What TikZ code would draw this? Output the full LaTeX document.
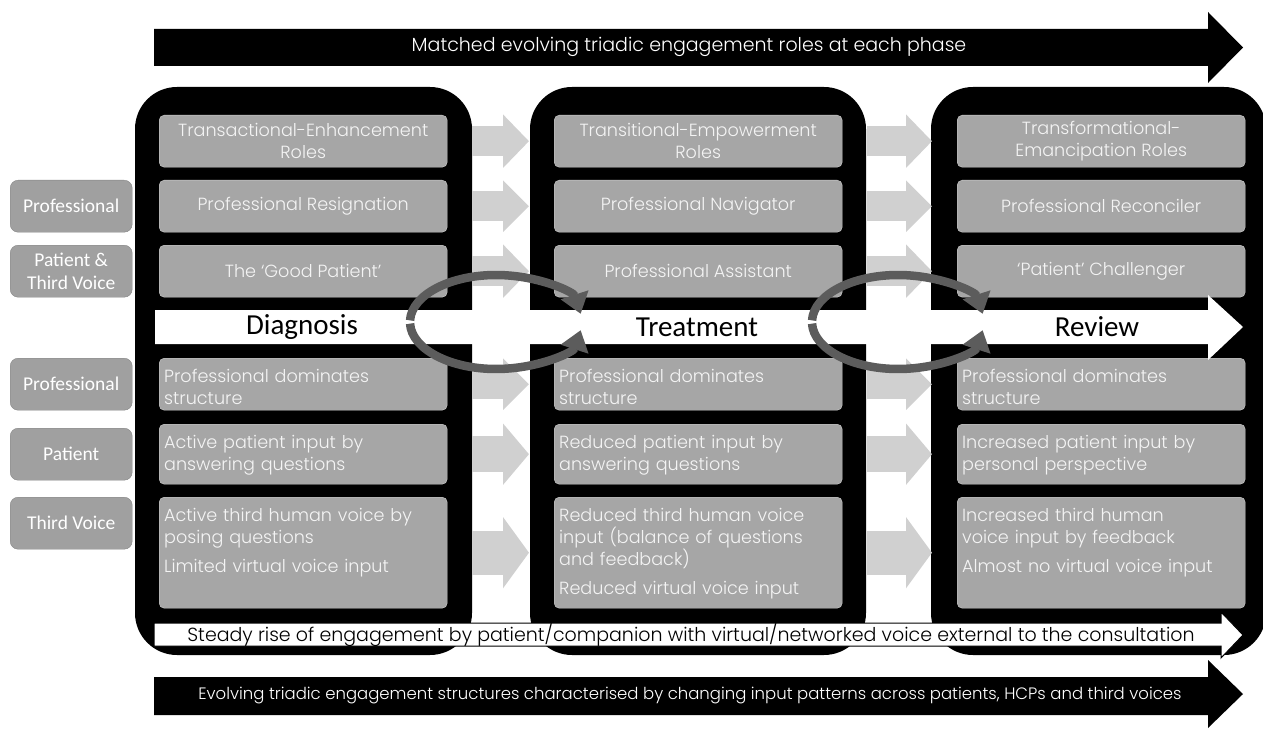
\documentclass[tikz,border=0pt]{standalone}
\usepackage{fontspec}
\setmainfont{Poppins Light}
\newfontfamily\calfont{Carlito}
\usetikzlibrary{arrows.meta,positioning,calc}

\definecolor{boxfill}{HTML}{A6A6A6}
\definecolor{boxedge}{HTML}{CFCFCF}
\definecolor{boxtext}{HTML}{F4F4F4}
\definecolor{sidefill}{HTML}{A0A0A0}
\definecolor{sideedge}{HTML}{858585}
\definecolor{arrowgray}{HTML}{D0D0D0}
\definecolor{cyclegray}{HTML}{5C5C5C}

\newcommand\boxfont{\fontsize{17.6bp}{22bp}\selectfont}
\newcommand\sidefont{\calfont\fontsize{19.5bp}{23bp}\selectfont}
\newcommand\phasefont{\calfont\fontsize{29bp}{31bp}\selectfont}

\begin{document}
\begin{tikzpicture}[x=1bp, y=-1bp,
    panel/.style={fill=black, rounded corners=42bp},
    rolebox/.style={draw=boxedge, fill=boxfill, rounded corners=5bp, text=boxtext,
      anchor=north west, minimum width=288bp, minimum height=52bp, inner sep=3bp,
      align=center, font=\boxfont},
    inputbox/.style={rolebox, align=left, text width=278bp, inner xsep=5bp,
      inner ysep=4bp, text height=20bp, text depth=#1},
    sidelabel/.style={draw=sideedge, fill=sidefill, rounded corners=8bp, text=white,
      anchor=north west, minimum width=122bp, minimum height=52bp, inner sep=2bp,
      align=center, font=\sidefont},
    shiftarrow/.style 2 args={draw=arrowgray, line width=#1, shorten <=25bp, shorten >=25bp,
      -{Triangle[length=26bp, width=#2]}},
    cyclearrow/.style={draw=cyclegray, line width=8.5bp, -{Triangle[length=20bp, width=28bp]}},
    phase/.style={font=\phasefont},
    banner/.style={text=white, font=\fontsize{19bp}{21bp}\selectfont}]

  \useasboundingbox (0,0) rectangle (1263,729);

  % phase panels
  \fill[panel] (135,87) rectangle (472,655);
  \fill[panel] (530,87) rectangle (866,655);
  \fill[panel] (931,87) rectangle (1266,655);

  % top banner
  \fill (154,29) -- (1208,29) -- (1208,12) -- (1243,47.5) -- (1208,83) -- (1208,66) -- (154,66) -- cycle;
  \node[banner] (toptext) at (689,47) {Matched evolving triadic engagement roles at each phase};

  % diagnosis column
  \node[rolebox] (d1) at (159,115) {Transactional-Enhancement\\Roles};
  \node[rolebox] (d2) at (159,180) {Professional Resignation};
  \node[rolebox] (d3) at (159,245) {The ‘Good Patient’};
  \node[inputbox=24bp] (d4) at (159,358) {Professional dominates\\structure};
  \node[inputbox=32bp] (d5) at (159,424) {Active patient input by\\answering questions};
  \node[inputbox=83bp] (d6) at (159,497) {Active third human voice by\\posing questions\\[7bp]Limited virtual voice input};

  % treatment column
  \node[rolebox] (t1) at (554,115) {Transitional-Empowerment\\Roles};
  \node[rolebox] (t2) at (554,180) {Professional Navigator};
  \node[rolebox] (t3) at (554,245) {Professional Assistant};
  \node[inputbox=24bp] (t4) at (554,358) {Professional dominates\\structure};
  \node[inputbox=32bp] (t5) at (554,424) {Reduced patient input by\\answering questions};
  \node[inputbox=83bp] (t6) at (554,497) {Reduced third human voice\\input (balance of questions\\and feedback)\\[7bp]Reduced virtual voice input};

  % review column
  \node[rolebox] (r1) at (957,115) {Transformational-\\Emancipation Roles};
  \node[rolebox] (r2) at (957,180) {Professional Reconciler};
  \node[rolebox] (r3) at (957,245) {‘Patient’ Challenger};
  \node[inputbox=24bp] (r4) at (957,358) {Professional dominates\\structure};
  \node[inputbox=32bp] (r5) at (957,424) {Increased patient input by\\personal perspective};
  \node[inputbox=83bp] (r6) at (957,497) {Increased third human\\voice input by feedback\\[7bp]Almost no virtual voice input};

  % row labels
  \node[sidelabel] (lprof1) at (10,180) {Professional};
  \node[sidelabel] (lpatthird) at (10,245) {Patient \&\\Third Voice};
  \node[sidelabel] (lprof2) at (10,358) {Professional};
  \node[sidelabel] (lpat) at (10,428) {Patient};
  \node[sidelabel] (lthird) at (10,497) {Third Voice};

  % shifts between phases
  \foreach \row/\bw/\hw in {1/30/52, 2/30/50, 3/30/52, 4/30/50, 5/36/60, 6/44/70} {
    \draw[shiftarrow={\bw bp}{\hw bp}] (d\row.east) -- (t\row.west);
    \draw[shiftarrow={\bw bp}{\hw bp}] (t\row.east) -- (r\row.west);
  }

  % phase line
  \fill[white] (155,310) -- (1208,310) -- (1208,295) -- (1243,327) -- (1208,360) -- (1208,344) -- (155,344) -- cycle;
  \node[phase] (diag) at (302,327) {Diagnosis};
  \node[phase] (treat) at (697,327) {Treatment};
  \node[phase] (review) at (1097,327) {Review};

  % cycles
  \coordinate (cyc1) at (496,322);
  \coordinate (cyc2) at (898,322);
  \foreach \c in {cyc1, cyc2} {
    \draw[cyclearrow] (\c) ++(182:86 and 47) arc[start angle=182, end angle=350, x radius=86, y radius=47];
    \draw[cyclearrow] (\c) ++(178:86 and 47) arc[start angle=178, end angle=10, x radius=86, y radius=47];
  }

  % steady rise
  \filldraw[fill=white, draw=black, line width=1bp] (154,623) -- (1221,623) -- (1221,612) -- (1243,635) -- (1221,658) -- (1221,646) -- (154,646) -- cycle;
  \node[font=\fontsize{19bp}{21bp}\selectfont] (steadytext) at (691,635) {Steady rise of engagement by patient/companion with virtual/networked voice external to the consultation};

  % bottom banner
  \fill (154,677) -- (1208,677) -- (1208,660) -- (1243,694) -- (1208,728) -- (1208,715) -- (154,715) -- cycle;
  \node[banner, font=\fontsize{16.5bp}{18bp}\selectfont] (bottomtext) at (690,696) {Evolving triadic engagement structures characterised by changing input patterns across patients, HCPs and third voices};
\end{tikzpicture}
\end{document}
